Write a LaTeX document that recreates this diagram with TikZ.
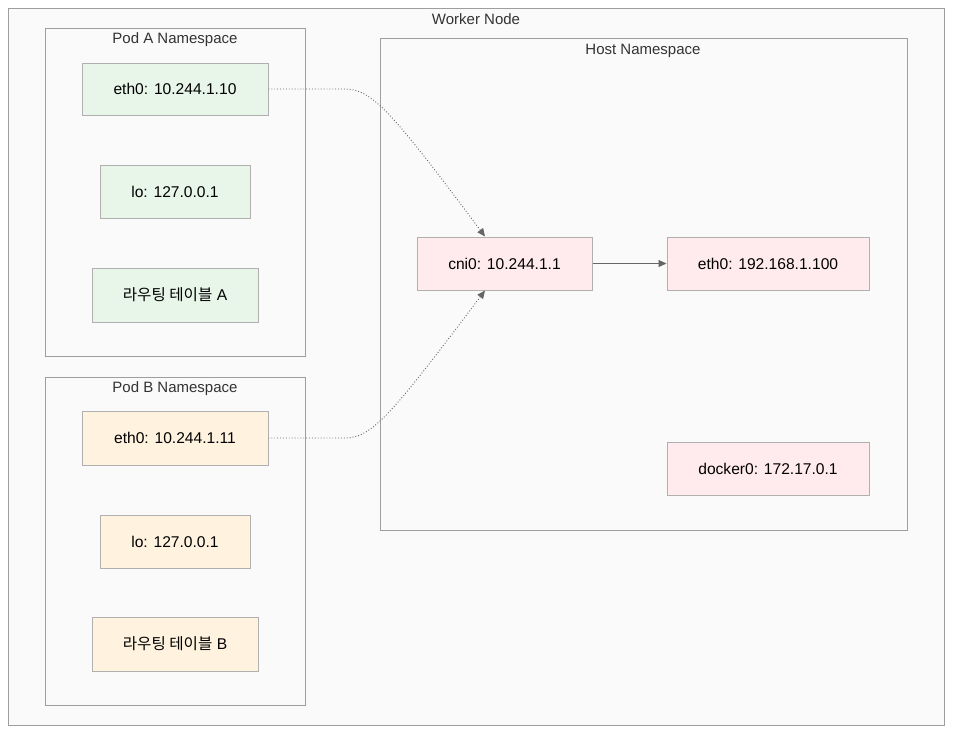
\documentclass[tikz,border=0pt]{standalone}
\usepackage{fontspec}
\setmainfont{Liberation Sans}
\newfontfamily\krfont{Noto Sans CJK KR}
\usetikzlibrary{arrows.meta}
\definecolor{clfill}{HTML}{FAFAFA}
\definecolor{clline}{HTML}{9E9E9E}
\definecolor{boxline}{HTML}{B0B0B0}
\definecolor{greenfill}{HTML}{E8F5E9}
\definecolor{orangefill}{HTML}{FFF3E0}
\definecolor{pinkfill}{HTML}{FFEBEE}
\definecolor{edgecol}{HTML}{666666}
\tikzset{
  clusterbox/.style={draw=clline, fill=clfill, line width=1pt},
  cltitle/.style={font=\fontsize{15}{17}\selectfont, text=black!80, inner sep=0pt},
  nodebox/.style={draw=boxline, line width=1pt, font=\fontsize{15.6}{18}\selectfont, text=black, inner sep=0pt},
  greenbox/.style={nodebox, fill=greenfill},
  orangebox/.style={nodebox, fill=orangefill},
  pinkbox/.style={nodebox, fill=pinkfill},
  dotedge/.style={draw=edgecol, line width=0.9pt, dotted, -{Triangle[length=8pt,width=7pt]}},
  solidedge/.style={draw=edgecol, line width=0.9pt, -{Triangle[length=8pt,width=7pt]}}
}
\begin{document}
\begin{tikzpicture}[x=1pt,y=-1pt]
\useasboundingbox (0,0) rectangle (960,740);
\fill[white] (0,0) rectangle (960,740);
% clusters
\draw[clusterbox] (8,8) rectangle (944,725);
\node[cltitle] (tworker) at (476,19) {Worker Node};
\draw[clusterbox] (45,28) rectangle (305,356);
\node[cltitle] (tpoda) at (175,40) {Pod A Namespace};
\draw[clusterbox] (45,377) rectangle (305,705);
\node[cltitle] (tpodb) at (175,389) {Pod B Namespace};
\draw[clusterbox] (380,38) rectangle (907,530);
\node[cltitle] (thost) at (643,51) {Host Namespace};
% pod A
\node[greenbox, minimum width=186pt, minimum height=52pt] (ea) at (175,89) {eth0: 10.244.1.10};
\node[greenbox, minimum width=150pt, minimum height=53pt] (la) at (175,191.5) {lo: 127.0.0.1};
\node[greenbox, minimum width=166pt, minimum height=54pt] (ra) at (175,295) {{\krfont 라우팅 테이블} A};
% pod B
\node[orangebox, minimum width=186pt, minimum height=54pt] (eb) at (175,438) {eth0: 10.244.1.11};
\node[orangebox, minimum width=150pt, minimum height=53pt] (lb) at (175,541.5) {lo: 127.0.0.1};
\node[orangebox, minimum width=166pt, minimum height=54pt] (rb) at (175,644) {{\krfont 라우팅 테이블} B};
% host
\node[pinkbox, minimum width=175pt, minimum height=53pt] (cni) at (504.5,263.5) {cni0: 10.244.1.1};
\node[pinkbox, minimum width=202pt, minimum height=53pt] (eh) at (768,263.5) {eth0: 192.168.1.100};
\node[pinkbox, minimum width=202pt, minimum height=53pt] (dk) at (768,468.5) {docker0: 172.17.0.1};
% edges
\coordinate (ka) at (345,89);
\coordinate (kb) at (345,438);
\draw[dotedge] (ea.east) -- (ka) .. controls (372,89) and (392,112) .. ([xshift=-19.5pt]cni.north);
\draw[dotedge] (eb.east) -- (kb) .. controls (372,438) and (392,414) .. ([xshift=-19.5pt]cni.south);
\draw[solidedge] (cni.east) -- (eh.west);
\end{tikzpicture}
\end{document}
